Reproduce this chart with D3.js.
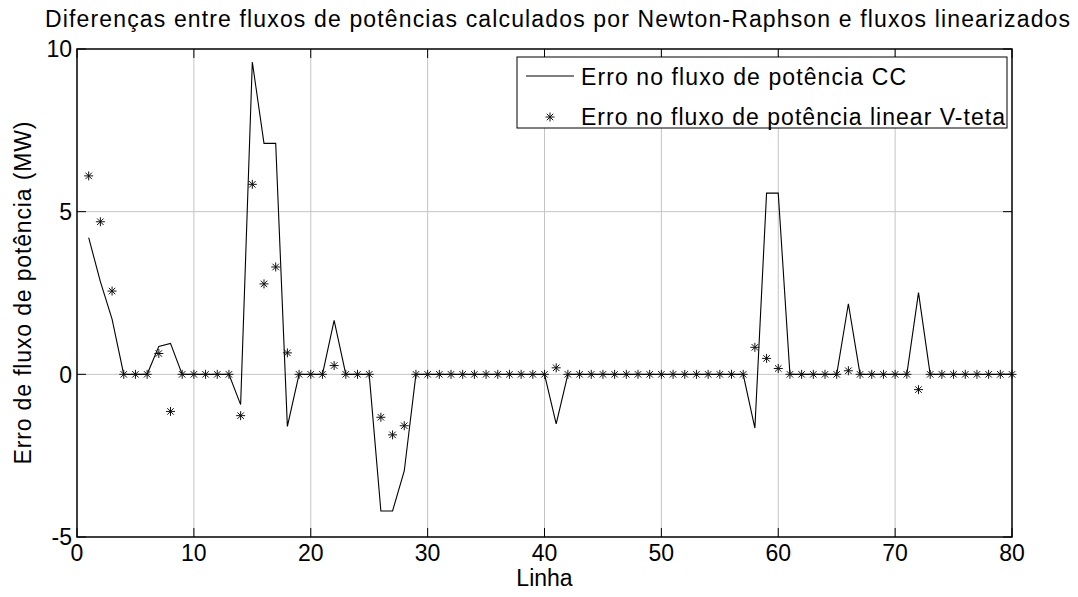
<!DOCTYPE html>
<html>
<head>
<meta charset="utf-8">
<script src="https://cdn.jsdelivr.net/npm/d3@7"></script>
<style>
  body { margin: 0; background: #fff; }
  svg { display: block; font-family: "Liberation Sans", Arial, sans-serif; }
</style>
</head>
<body>
<div id="chart"></div>
<script>
// data
var linhas = d3.range(1, 81);
var erroCC = [4.2, 2.85, 1.7, 0, 0, 0, 0.86, 0.95, 0, 0,
  0, 0, 0, -0.93, 9.6, 7.1, 7.1, -1.6, 0, 0,
  0, 1.66, 0, 0, 0, -4.2, -4.2, -2.97, 0, 0,
  0, 0, 0, 0, 0, 0, 0, 0, 0, 0,
  -1.52, 0, 0, 0, 0, 0, 0, 0, 0, 0,
  0, 0, 0, 0, 0, 0, 0, -1.65, 5.57, 5.57,
  0, 0, 0, 0, 0, 2.17, 0, 0, 0, 0,
  0, 2.51, 0, 0, 0, 0, 0, 0, 0, 0];
var erroVteta = [6.1, 4.69, 2.56, 0, 0, 0, 0.64, -1.14, 0, 0,
  0, 0, 0, -1.27, 5.84, 2.78, 3.3, 0.66, 0, 0,
  0, 0.27, 0, 0, 0, -1.32, -1.86, -1.58, 0, 0,
  0, 0, 0, 0, 0, 0, 0, 0, 0, 0,
  0.2, 0, 0, 0, 0, 0, 0, 0, 0, 0,
  0, 0, 0, 0, 0, 0, 0, 0.83, 0.49, 0.18,
  0, 0, 0, 0, 0, 0.11, 0, 0, 0, 0,
  0, -0.47, 0, 0, 0, 0, 0, 0, 0, 0];
var xTicks = [0, 10, 20, 30, 40, 50, 60, 70, 80];
var yTicks = [-5, 0, 5, 10];
var legendNames = ["Erro no fluxo de potência CC", "Erro no fluxo de potência linear V-teta"];

var width = 1078, height = 597;
var margin = {top: 49, right: 66, bottom: 60, left: 77};
var tick = 9;
var fs = 23;

var svg = d3.select("#chart").append("svg")
  .attr("width", width)
  .attr("height", height);

var x = d3.scaleLinear().domain([0, 80]).range([margin.left, width - margin.right]);
var y = d3.scaleLinear().domain([-5, 10]).range([height - margin.bottom, margin.top]);

// grid
svg.append("g").selectAll("line")
  .data(xTicks.slice(1, -1))
  .join("line")
  .attr("x1", d => x(d)).attr("x2", d => x(d))
  .attr("y1", y(10)).attr("y2", y(-5))
  .attr("stroke", "#c4c4c4").attr("stroke-width", 1);
svg.append("g").selectAll("line")
  .data(yTicks.slice(1, -1))
  .join("line")
  .attr("x1", x(0)).attr("x2", x(80))
  .attr("y1", d => y(d)).attr("y2", d => y(d))
  .attr("stroke", "#c4c4c4").attr("stroke-width", 1);

// line CC
var line = d3.line()
  .x((d, i) => x(linhas[i]))
  .y(d => y(d));

svg.append("path")
  .datum(erroCC)
  .attr("d", line)
  .attr("fill", "none")
  .attr("stroke", "#000")
  .attr("stroke-width", 1.1);

// asterisk marker
function star(r) {
  var a = r * 0.72;
  return `M${-r},0L${r},0M0,${-r}L0,${r}M${-a},${-a}L${a},${a}M${-a},${a}L${a},${-a}`;
}

svg.append("g").selectAll("path")
  .data(erroVteta)
  .join("path")
  .attr("transform", (d, i) => `translate(${x(linhas[i])},${y(d)})`)
  .attr("d", star(4.5))
  .attr("fill", "none")
  .attr("stroke", "#111")
  .attr("stroke-width", 1);

// frame
svg.append("rect")
  .attr("x", x(0)).attr("y", y(10))
  .attr("width", x(80) - x(0)).attr("height", y(-5) - y(10))
  .attr("fill", "none").attr("stroke", "#000").attr("stroke-width", 1.5);

// ticks (inward, both sides)
var tk = svg.append("g").attr("stroke", "#000").attr("stroke-width", 1);
xTicks.forEach(function(t) {
  tk.append("line").attr("x1", x(t)).attr("x2", x(t)).attr("y1", y(-5)).attr("y2", y(-5) - tick);
  tk.append("line").attr("x1", x(t)).attr("x2", x(t)).attr("y1", y(10)).attr("y2", y(10) + tick);
});
yTicks.forEach(function(t) {
  tk.append("line").attr("x1", x(0)).attr("x2", x(0) + tick).attr("y1", y(t)).attr("y2", y(t));
  tk.append("line").attr("x1", x(80)).attr("x2", x(80) - tick).attr("y1", y(t)).attr("y2", y(t));
});

// tick labels
svg.append("g").selectAll("text")
  .data(xTicks)
  .join("text")
  .attr("x", d => x(d))
  .attr("y", y(-5) + 24)
  .attr("text-anchor", "middle")
  .attr("font-size", fs)
  .text(d => d);

svg.append("g").selectAll("text")
  .data(yTicks)
  .join("text")
  .attr("x", x(0) - 5)
  .attr("y", d => y(d))
  .attr("dy", "0.36em")
  .attr("text-anchor", "end")
  .attr("font-size", fs)
  .text(d => d);

// axis titles
svg.append("text")
  .attr("x", (x(0) + x(80)) / 2)
  .attr("y", height - 11)
  .attr("text-anchor", "middle")
  .attr("font-size", fs)
  .text("Linha");

svg.append("text")
  .attr("transform", `translate(31,${(y(10) + y(-5)) / 2}) rotate(-90)`)
  .attr("text-anchor", "middle")
  .attr("font-size", fs)
  .attr("textLength", 343)
  .text("Erro de fluxo de potência (MW)");

svg.append("text")
  .attr("x", 45)
  .attr("y", 27)
  .attr("font-size", fs)
  .attr("textLength", 1025)
  .text("Diferenças entre fluxos de potências calculados por Newton-Raphson e fluxos linearizados");

// legend
var lg = svg.append("g");
lg.append("rect")
  .attr("x", 517).attr("y", 57)
  .attr("width", x(80) - 5 - 517).attr("height", 71)
  .attr("fill", "#fff").attr("stroke", "#000").attr("stroke-width", 1);
lg.append("line")
  .attr("x1", 526).attr("x2", 574).attr("y1", 76).attr("y2", 76)
  .attr("stroke", "#000").attr("stroke-width", 1.1);
lg.append("path")
  .attr("transform", "translate(550,117)")
  .attr("d", star(4.5))
  .attr("fill", "none").attr("stroke", "#111").attr("stroke-width", 1);
lg.selectAll("text")
  .data(legendNames)
  .join("text")
  .attr("x", 581)
  .attr("y", (d, i) => 77 + i * 40)
  .attr("dy", "0.36em")
  .attr("font-size", fs)
  .attr("textLength", (d, i) => [325, 424][i])
  .text(d => d);
</script>
</body>
</html>
